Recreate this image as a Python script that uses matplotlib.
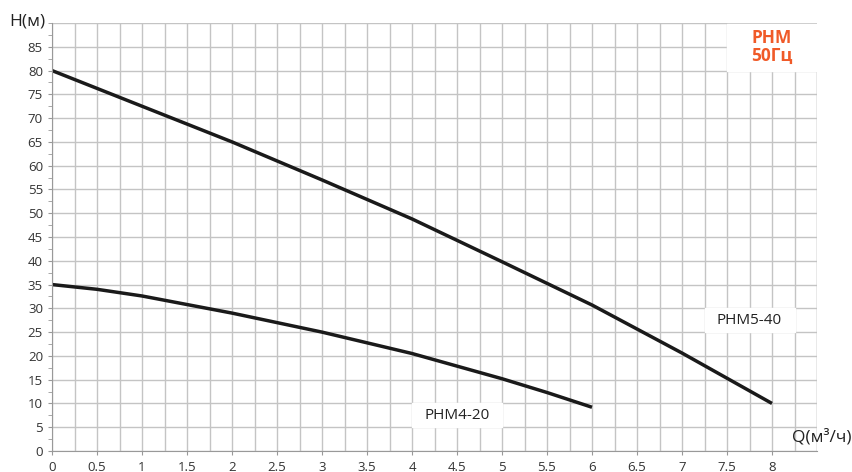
import matplotlib.pyplot as plt
import numpy as np
from matplotlib.ticker import MultipleLocator

plt.rcParams['font.family'] = ['Open Sans', 'DejaVu Sans']

# pump curves
q_540 = [0, 1, 2, 3, 4, 5, 6, 7, 8]
h_540 = [80, 72.5, 65, 57, 48.8, 39.8, 30.7, 20.6, 10]
q_420 = [0, 0.5, 1, 2, 3, 4, 5, 5.5, 6]
h_420 = [35, 34, 32.6, 29, 25, 20.5, 15.2, 12.3, 9.2]
names = ["РНМ5-40", "РНМ4-20"]
title = "РНМ\n50Гц"

grid_c = "#c4c4c4"
fig = plt.figure(figsize=(8.52, 4.72), dpi=100)
ax = fig.add_axes([52 / 852, 1 - 451 / 472, 765 / 852, 428 / 472])

ax.set_xlim(0, 8.5)
ax.set_ylim(0, 90)
ax.xaxis.set_minor_locator(MultipleLocator(0.25))
ax.yaxis.set_minor_locator(MultipleLocator(2.5))
ax.set_xticks(np.arange(0, 8.01, 0.5))
ax.set_xticklabels(["0"] + [f"{v:g}" for v in np.arange(0.5, 8.01, 0.5)])
ax.set_yticks(np.arange(0, 86, 5))
ax.grid(which="major", axis="y", color=grid_c, lw=1)
ax.grid(which="both", axis="x", color=grid_c, lw=1)
ax.axhline(90, color=grid_c, lw=1)
ax.axvline(8.5, color=grid_c, lw=1)
for s in ["top", "right"]:
    ax.spines[s].set_visible(False)
for s in ["left", "bottom"]:
    ax.spines[s].set_color("#999999")
ax.tick_params(which="both", colors="#999999", labelcolor="#333333", labelsize=9.5, length=3)
ax.tick_params(axis="x", which="minor", length=0)
ax.tick_params(axis="x", pad=4)
ax.set_axisbelow(True)

ax.plot(q_540, h_540, color="#1a1a1a", lw=2.5, solid_capstyle="butt")
ax.plot(q_420, h_420, color="#1a1a1a", lw=2.5, solid_capstyle="butt")

# white boxes behind labels
ax.fill_between([7.25, 8.25], 25, 30, color="white", zorder=2)
ax.fill_between([4, 5], 5, 10, color="white", zorder=2)
ax.fill_between([7.5, 8.5], 80, 89.7, color="white", zorder=2)
ax.text(7.75, 27.5, names[0], ha="center", va="center", fontsize=11, color="#222222", zorder=3)
ax.text(4.5, 7.5, names[1], ha="center", va="center", fontsize=11, color="#222222", zorder=3)
ax.text(8.0, 85, title, ha="center", va="center", fontsize=12.5, color="#f05a28",
        fontweight="bold", linespacing=1.0, zorder=3)

fig.text(9 / 852, 1 - 22 / 472, "H(м)", fontsize=12.5, color="#222222", va="center")
fig.text(792 / 852, 1 - 437 / 472, "Q(м³/ч)", fontsize=12.5, color="#222222", va="center")

fig.savefig("out.png", dpi=100)
